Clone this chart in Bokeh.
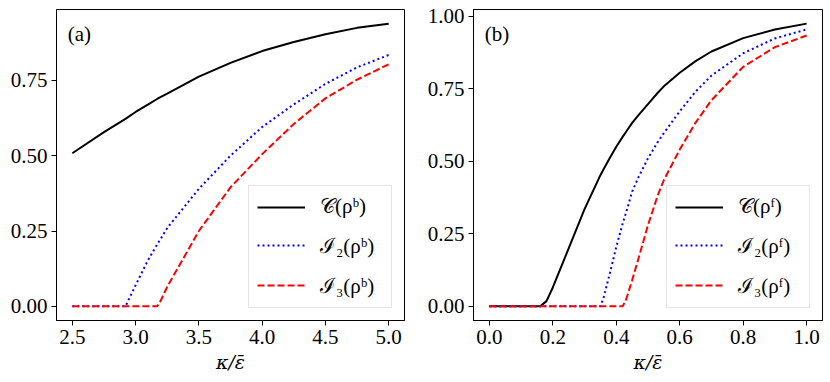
from bokeh.plotting import figure
from bokeh.models import Legend, LegendItem, Label, Range1d, FixedTicker, NumeralTickFormatter
from bokeh.layouts import row
from bokeh.embed import file_html
from bokeh.resources import INLINE

# ---- panel (a) data ----
xa = [2.5, 2.75, 2.92, 3.0, 3.1, 3.17, 3.2, 3.25, 3.5, 3.75, 4.0, 4.25, 4.5, 4.75, 5.0]
ca = [0.508, 0.578, 0.622, 0.645, 0.670, 0.688, 0.695, 0.706, 0.762, 0.808, 0.847, 0.877, 0.903, 0.924, 0.938]
i2a = [0, 0, 0, 0.07, 0.155, 0.205, 0.225, 0.26, 0.39, 0.50, 0.595, 0.67, 0.738, 0.793, 0.834]
i3a = [0, 0, 0, 0, 0, 0, 0.02, 0.065, 0.25, 0.395, 0.505, 0.605, 0.69, 0.752, 0.803]

# ---- panel (b) data ----
xb = [0.0, 0.16, 0.18, 0.2, 0.25, 0.3, 0.35, 0.36, 0.38, 0.4, 0.42, 0.43, 0.45, 0.47, 0.5,
      0.53, 0.55, 0.6, 0.65, 0.7, 0.8, 0.9, 1.0]
cb = [0, 0, 0.018, 0.065, 0.2, 0.335, 0.452, 0.472, 0.512, 0.55, 0.584, 0.600, 0.632, 0.659,
      0.697, 0.735, 0.758, 0.805, 0.845, 0.878, 0.924, 0.954, 0.974]
i2b = [0, 0, 0, 0, 0, 0, 0, 0.03, 0.115, 0.205, 0.285, 0.32, 0.395, 0.445, 0.51, 0.565,
       0.597, 0.672, 0.74, 0.795, 0.872, 0.923, 0.954]
i3b = [0, 0, 0, 0, 0, 0, 0, 0, 0, 0, 0, 0.02, 0.09, 0.165, 0.28, 0.38, 0.435, 0.54, 0.633,
       0.71, 0.825, 0.893, 0.933]

xticks_a = [2.5, 3.0, 3.5, 4.0, 4.5, 5.0]
xticks_b = [0.0, 0.2, 0.4, 0.6, 0.8, 1.0]
yticks = [0.0, 0.25, 0.5, 0.75, 1.0]

labels_a = ["\U0001D49E(\u03C1\u1D47)", "\u2110\u2082(\u03C1\u1D47)", "\u2110\u2083(\u03C1\u1D47)"]
labels_b = ["\U0001D49E(\u03C1\u1DA0)", "\u2110\u2082(\u03C1\u1DA0)", "\u2110\u2083(\u03C1\u1DA0)"]
xlabel = "\u03BA/\u03B5\u0304"

FONT = "Liberation Serif"
FS = "21px"


def pad_range(vals, frac=0.05):
    lo, hi = min(vals), max(vals)
    d = (hi - lo) * frac
    return lo - d, hi + d


def make_panel(x, c, i2, i3, xticks, xfmt, labels, tag, width, bl, br):
    x0, x1 = pad_range(x)
    y0, y1 = pad_range(c + i2 + i3)
    p = figure(width=width, height=376, output_backend="svg", toolbar_location=None,
               x_range=Range1d(x0, x1), y_range=Range1d(y0, y1),
               min_border_left=bl, min_border_right=br, min_border_top=9, min_border_bottom=56)
    p.xgrid.visible = False
    p.ygrid.visible = False
    p.outline_line_color = "black"
    p.outline_line_width = 1
    p.outline_line_alpha = 1
    p.background_fill_color = "white"
    p.border_fill_color = "white"

    for ax in (p.xaxis[0], p.yaxis[0]):
        ax.major_label_text_font = FONT
        ax.major_label_text_font_size = FS
        ax.major_label_text_color = "black"
        ax.major_tick_in = 0
        ax.major_tick_out = 5
        ax.minor_tick_in = 0
        ax.minor_tick_out = 0
        ax.major_tick_line_color = "black"
        ax.axis_line_color = "black"
        ax.major_label_standoff = 4

    p.xaxis.ticker = FixedTicker(ticks=xticks)
    p.xaxis.formatter = NumeralTickFormatter(format=xfmt)
    p.yaxis.ticker = FixedTicker(ticks=yticks)
    p.yaxis.formatter = NumeralTickFormatter(format="0.00")
    p.xaxis.axis_label = xlabel
    p.xaxis.axis_label_text_font = "DejaVu Serif"
    p.xaxis.axis_label_text_font_size = "19px"
    p.xaxis.axis_label_text_font_style = "italic"
    p.xaxis.axis_label_text_color = "black"
    p.xaxis.axis_label_standoff = 4

    r1 = p.line(x, c, line_color="black", line_width=2)
    r2 = p.line(x, i2, line_color="#0000ff", line_width=2, line_dash="2 3")
    r3 = p.line(x, i3, line_color="#ff0000", line_width=2, line_dash="7 3")

    legend = Legend(items=[LegendItem(label=labels[0], renderers=[r1]),
                           LegendItem(label=labels[1], renderers=[r2]),
                           LegendItem(label=labels[2], renderers=[r3])],
                    location="bottom_right", margin=12, padding=8, spacing=12,
                    glyph_width=48, glyph_height=20, label_standoff=15, label_width=63,
                    label_text_font=FONT, label_text_font_size=FS, label_text_color="black",
                    border_line_color="#cccccc", border_line_width=1,
                    background_fill_color="white", background_fill_alpha=0.8)
    p.add_layout(legend)

    p.add_layout(Label(x=x0 + 0.032 * (x1 - x0), y=y0 + 0.92 * (y1 - y0), text=tag,
                       text_font=FONT, text_font_size=FS, text_baseline="middle",
                       text_align="left", text_color="black"))
    return p


p1 = make_panel(xa, ca, i2a, i3a, xticks_a, "0.0", labels_a, "(a)", 415, 56, 11)
p2 = make_panel(xb, cb, i2b, i3b, xticks_b, "0.0", labels_b, "(b)", 414, 58, 7)

layout = row(p1, p2)
open("out.html", "w").write(file_html(layout, INLINE))
